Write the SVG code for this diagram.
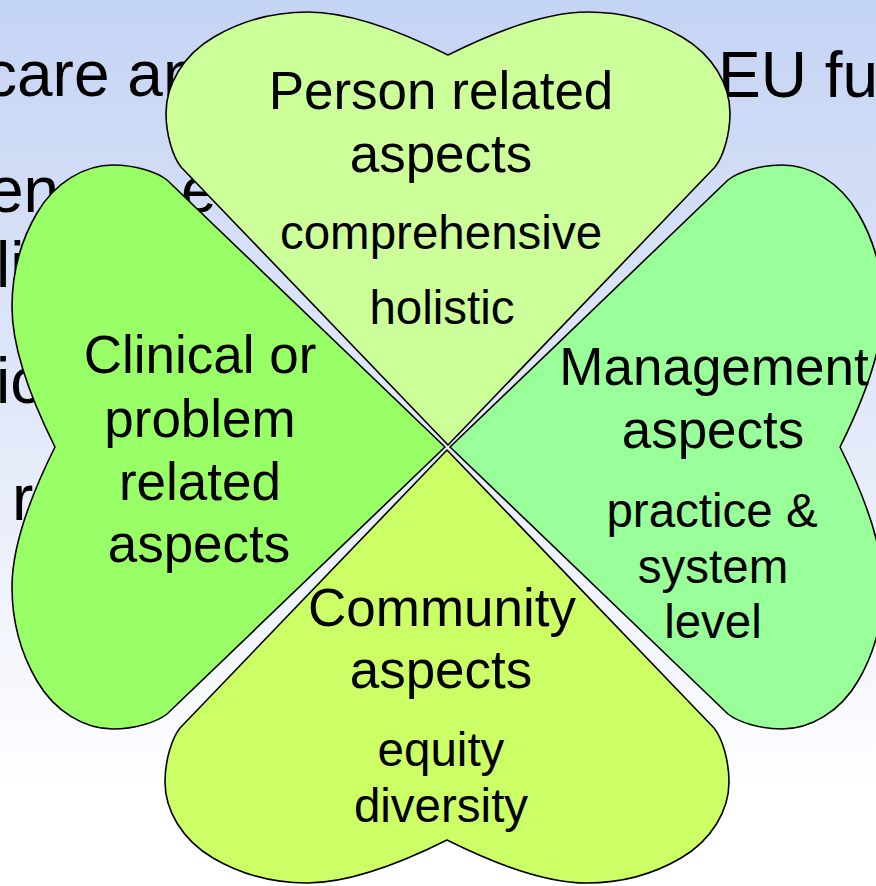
<svg xmlns="http://www.w3.org/2000/svg" xmlns:xlink="http://www.w3.org/1999/xlink" width="876" height="886" viewBox="0 0 876 886">
<style>
.bg{font-family:"Liberation Sans",Arial,sans-serif;font-size:64px;fill:#000}
.main{font-family:"Liberation Sans",Arial,sans-serif;font-size:53px;fill:#000;text-anchor:middle}
.sub{font-family:"Liberation Sans",Arial,sans-serif;font-size:47.5px;fill:#000;text-anchor:middle}
.heart{stroke:#000;stroke-width:1.6;stroke-linejoin:round}
</style>
<defs>
<linearGradient id="sky" x1="0" y1="0" x2="0" y2="1">
<stop offset="0" stop-color="#C4D4F4"/>
<stop offset="0.5" stop-color="#E4EAF9"/>
<stop offset="0.9" stop-color="#FFFFFF"/>
</linearGradient>
<path id="heart" d="M0,0 L267,-278 C275,-288 282,-310 282,-332 C282,-360 265,-390 234,-408 C205,-425 175,-433 140,-433 C100,-433 50,-415 0,-390 C-50,-415 -100,-433 -140,-433 C-175,-433 -205,-425 -234,-408 C-265,-390 -282,-360 -282,-332 C-282,-310 -275,-288 -267,-278 Z"/>
</defs>
<rect x="0" y="0" width="876" height="886" fill="url(#sky)"/>
<g id="background-text">
<text class="bg" x="-15" y="96">care an</text>
<text class="bg" x="718" y="97">EU fu</text>
<text class="bg" x="-12" y="212">en</text>
<text class="bg" x="181" y="212">e</text>
<text class="bg" x="-4" y="287">li</text>
<text class="bg" x="-4" y="403">ic</text>
<text class="bg" x="12" y="520">r</text>
</g>
<g id="connectors"></g>
<g id="node-person">
<use xlink:href="#heart" href="#heart" class="heart" fill="#CCFF99" transform="translate(448,445)"/>
<text class="main" x="441" y="109">Person related</text>
<text class="main" x="441" y="172">aspects</text>
<text class="sub" x="441" y="249">comprehensive</text>
<text class="sub" x="442" y="324">holistic</text>
</g>
<g id="node-clinical">
<use xlink:href="#heart" href="#heart" class="heart" fill="#99FF66" transform="translate(445,447) rotate(-90)"/>
<text class="main" x="200" y="373">Clinical or</text>
<text class="main" x="200" y="437">problem</text>
<text class="main" x="200" y="500">related</text>
<text class="main" x="199" y="562">aspects</text>
</g>
<g id="node-management">
<use xlink:href="#heart" href="#heart" class="heart" fill="#99FF99" transform="translate(450,447) rotate(90)"/>
<text class="main" x="714" y="385">Management</text>
<text class="main" x="713" y="448">aspects</text>
<text class="sub" x="712" y="527">practice &amp;</text>
<text class="sub" x="713" y="583">system</text>
<text class="sub" x="713" y="638">level</text>
</g>
<g id="node-community">
<use xlink:href="#heart" href="#heart" class="heart" fill="#CCFF66" transform="translate(447,450) rotate(180)"/>
<text class="main" x="442" y="626">Community</text>
<text class="main" x="441" y="688">aspects</text>
<text class="sub" x="441" y="766">equity</text>
<text class="sub" x="441" y="822">diversity</text>
</g>
</svg>
